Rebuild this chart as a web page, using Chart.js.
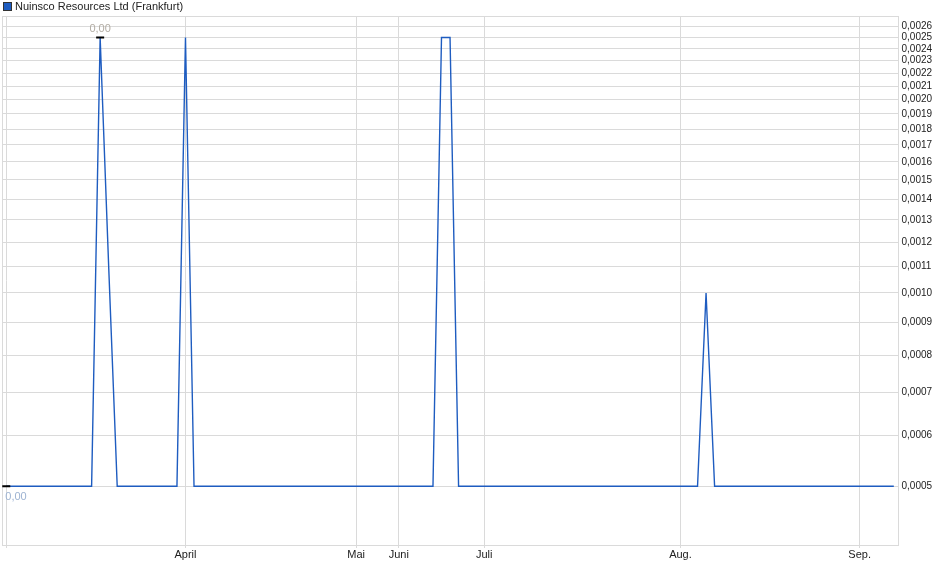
<!DOCTYPE html>
<html>
<head>
<meta charset="utf-8">
<script src="https://cdn.jsdelivr.net/npm/chart.js@4/dist/chart.umd.min.js"></script>
<style>
  html, body { margin: 0; padding: 0; background: #fff; }
  #wrap { width: 940px; height: 579px; }
</style>
</head>
<body>
<div id="wrap"><canvas id="priceChart" width="940" height="579"></canvas></div>
<script>
// Nuinsco Resources Ltd (Frankfurt) - one value per quote, x = quote index
const seriesName = 'Nuinsco Resources Ltd (Frankfurt)';

const prices = [
    0.0005, 0.0005, 0.0005, 0.0005, 0.0005, 0.0005, 0.0005, 0.0005, 0.0005, 0.0005,
    0.0005, 0.0025, 0.0011, 0.0005, 0.0005, 0.0005, 0.0005, 0.0005, 0.0005, 0.0005,
    0.0005, 0.0025, 0.0005, 0.0005, 0.0005, 0.0005, 0.0005, 0.0005, 0.0005, 0.0005,
    0.0005, 0.0005, 0.0005, 0.0005, 0.0005, 0.0005, 0.0005, 0.0005, 0.0005, 0.0005,
    0.0005, 0.0005, 0.0005, 0.0005, 0.0005, 0.0005, 0.0005, 0.0005, 0.0005, 0.0005,
    0.0005, 0.0025, 0.0025, 0.0005, 0.0005, 0.0005, 0.0005, 0.0005, 0.0005, 0.0005,
    0.0005, 0.0005, 0.0005, 0.0005, 0.0005, 0.0005, 0.0005, 0.0005, 0.0005, 0.0005,
    0.0005, 0.0005, 0.0005, 0.0005, 0.0005, 0.0005, 0.0005, 0.0005, 0.0005, 0.0005,
    0.0005, 0.0005, 0.0010, 0.0005, 0.0005, 0.0005, 0.0005, 0.0005, 0.0005, 0.0005,
    0.0005, 0.0005, 0.0005, 0.0005, 0.0005, 0.0005, 0.0005, 0.0005, 0.0005, 0.0005,
    0.0005, 0.0005, 0.0005, 0.0005, 0.0005
];

// month starts (quote index) and their labels
const monthIdx = [0, 21, 41, 46, 56, 79, 100];
const monthLabels = ['', 'April', 'Mai', 'Juni', 'Juli', 'Aug.', 'Sep.'];

const yTicks = [
    0.0005, 0.0006, 0.0007, 0.0008, 0.0009, 0.0010, 0.0011, 0.0012, 0.0013, 0.0014,
    0.0015, 0.0016, 0.0017, 0.0018, 0.0019, 0.0020, 0.0021, 0.0022, 0.0023, 0.0024,
    0.0025, 0.0026
];

const lineColor = '#1e5cc0';
const gridColor = '#dadada';
const fontFamily = '"Liberation Sans", Arial, sans-serif';

function fmt(v, d) {
    return v.toFixed(d).replace('.', ',');
}

// legend, frame and min/max markers
const extras = {
    id: 'extras',
    afterDraw(chart) {
        const ctx = chart.ctx;
        const a = chart.chartArea;
        const xs = chart.scales.x, ys = chart.scales.y;
        ctx.save();

        // frame
        ctx.strokeStyle = gridColor;
        ctx.lineWidth = 1;
        ctx.strokeRect(Math.round(a.left) + 0.5, Math.round(a.top) + 0.5,
            Math.round(a.right - a.left) - 1, Math.round(a.bottom - a.top));

        // legend
        ctx.fillStyle = lineColor;
        ctx.fillRect(4, 3, 7, 7);
        ctx.strokeStyle = '#333';
        ctx.strokeRect(3.5, 2.5, 8, 8);
        ctx.fillStyle = '#222';
        ctx.font = '11px ' + fontFamily;
        ctx.textBaseline = 'middle';
        ctx.textAlign = 'left';
        ctx.fillText(seriesName, 15, 7);

        // max / min markers
        const maxV = Math.max(...prices), minV = Math.min(...prices);
        const iMax = prices.indexOf(maxV), iMin = prices.indexOf(minV);
        const mx = xs.getPixelForValue(iMax), my = ys.getPixelForValue(maxV);
        const nx = xs.getPixelForValue(iMin), ny = ys.getPixelForValue(minV);

        ctx.strokeStyle = '#000';
        ctx.lineWidth = 2;
        ctx.beginPath();
        ctx.moveTo(mx - 4, my); ctx.lineTo(mx + 4, my);
        ctx.moveTo(nx - 4, ny); ctx.lineTo(nx + 4, ny);
        ctx.stroke();

        ctx.font = '11px ' + fontFamily;
        ctx.textBaseline = 'middle';
        ctx.fillStyle = '#b2aca3';
        ctx.textAlign = 'center';
        ctx.fillText(fmt(maxV, 2), mx, my - 8);
        ctx.fillStyle = '#9db3d2';
        ctx.textAlign = 'left';
        ctx.fillText(fmt(minV, 2), nx - 1, ny + 11);

        ctx.restore();
    }
};

const ctx = document.getElementById('priceChart').getContext('2d');
new Chart(ctx, {
    type: 'line',
    data: {
        datasets: [{
            label: seriesName,
            data: prices.map((v, i) => ({ x: i, y: v })),
            borderColor: lineColor,
            borderWidth: 1.4,
            pointRadius: 0,
            tension: 0,
            fill: false
        }]
    },
    options: {
        responsive: false,
        animation: false,
        layout: { padding: { left: 2, top: 16, right: 0, bottom: 0 } },
        plugins: {
            legend: { display: false },
            tooltip: { enabled: false }
        },
        scales: {
            x: {
                type: 'linear',
                min: -0.5,
                max: 104.55,
                afterBuildTicks(scale) {
                    scale.ticks = monthIdx.map(v => ({ value: v }));
                },
                afterFit(scale) { scale.height = 34; },
                grid: { color: gridColor, tickLength: 3 },
                border: { color: gridColor },
                ticks: {
                    autoSkip: false,
                    maxRotation: 0,
                    padding: 0,
                    color: '#222',
                    font: { family: fontFamily, size: 11 },
                    callback: function(v) {
                        const k = monthIdx.indexOf(v);
                        return k >= 0 ? monthLabels[k] : '';
                    }
                }
            },
            y: {
                type: 'logarithmic',
                position: 'right',
                min: 0.000405,
                max: 0.0027,
                afterBuildTicks(scale) {
                    scale.ticks = yTicks.map(v => ({ value: v }));
                },
                afterFit(scale) { scale.width = 41.5; },
                grid: { color: gridColor, drawTicks: false },
                border: { color: gridColor },
                ticks: {
                    autoSkip: false,
                    padding: 3,
                    color: '#222',
                    font: { family: fontFamily, size: 10 },
                    callback: function(v) { return fmt(v, 4); }
                }
            }
        }
    },
    plugins: [extras]
});
</script>
</body>
</html>
